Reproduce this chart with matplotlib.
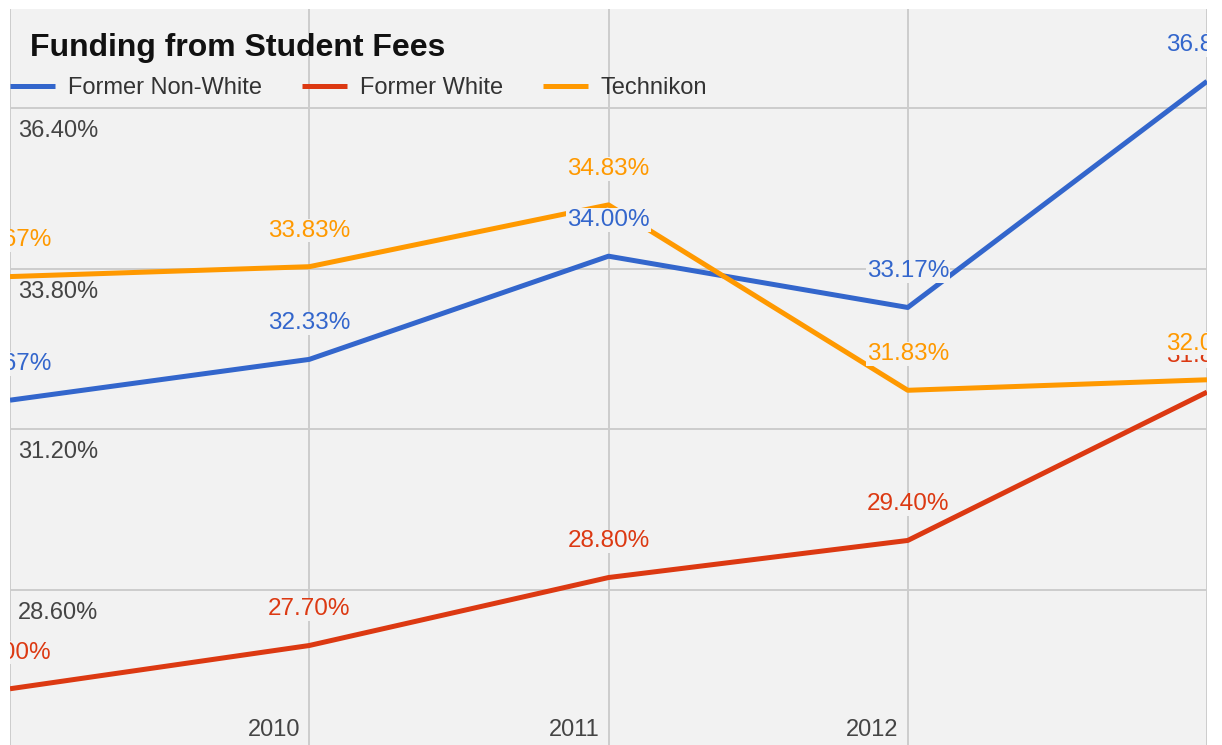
import matplotlib
matplotlib.use("Agg")
import matplotlib.pyplot as plt
import matplotlib.transforms as mtransforms

# ---- data ----
years = [2009, 2010, 2011, 2012, 2013]
series_names = ["Former Non-White", "Former White", "Technikon"]
former_non_white = [31.67, 32.33, 34.00, 33.17, 36.83]
former_white = [27.00, 27.70, 28.80, 29.40, 31.80]
technikon = [33.67, 33.83, 34.83, 31.83, 32.00]
y_ticks = [28.60, 31.20, 33.80, 36.40]
x_tick_years = [2010, 2011, 2012]
title = "Funding from Student Fees"

colors = ["#3366cc", "#dc3912", "#ff9900"]
bg = "#f2f2f2"
grid_c = "#cccccc"
axis_text = "#444444"

plt.rcParams['font.family'] = ['Liberation Sans', 'DejaVu Sans']

W, H = 1222, 745
fig = plt.figure(figsize=(W / 100, H / 100), dpi=100)
ax_left, ax_right, ax_top, ax_bottom = 10, 1207, 9, 745
ax = fig.add_axes([ax_left / W, (H - ax_bottom) / H,
                   (ax_right - ax_left) / W, (ax_bottom - ax_top) / H])
ax.set_facecolor(bg)
ax.set_xlim(2009, 2013)
ax.set_ylim(26.09, 38.0)
for s in ax.spines.values():
    s.set_visible(False)

ax.set_xticks(years)
ax.set_yticks(y_ticks)
ax.grid(True, color=grid_c, linewidth=1.4, zorder=0)
ax.tick_params(length=0, labelbottom=False, labelleft=False)
ax.set_axisbelow(True)

all_series = [former_non_white, former_white, technikon]
lines = []
for vals, c, name in zip(all_series, colors, series_names):
    ln, = ax.plot(years, vals, color=c, linewidth=3.6, label=name,
                  solid_joinstyle='round', solid_capstyle='butt', zorder=3)
    lines.append(ln)

# data labels
for vals, c in zip(all_series, colors):
    for x, v in zip(years, vals):
        t = ax.annotate(f"{v:.2f}%", xy=(x, v), xytext=(0, 26),
                        textcoords="offset points", ha="center", va="center",
                        fontsize=17.5, color=c, zorder=5,
                        bbox=dict(facecolor=bg, edgecolor="none", pad=0.5),
                        annotation_clip=False)
        t.set_clip_on(True)
        t.set_clip_path(ax.patch)

# y axis labels (inside, below gridlines)
ytrans = mtransforms.blended_transform_factory(ax.transAxes, ax.transData)
for yv in y_ticks:
    ax.text(0.0067, yv, f"{yv:.2f}%", transform=ytrans +
            mtransforms.ScaledTranslation(0, -12 / 100, fig.dpi_scale_trans),
            ha="left", va="top", fontsize=17, color=axis_text, zorder=2)

# x axis labels (inside, bottom, right of label at gridline)
xtrans = mtransforms.blended_transform_factory(ax.transData, ax.transAxes)
for xv in x_tick_years:
    ax.text(xv, 0.0204, str(xv), transform=xtrans +
            mtransforms.ScaledTranslation(-9 / 100, 0, fig.dpi_scale_trans),
            ha="right", va="center", fontsize=17, color=axis_text, zorder=2)

# title
ax.text(20 / 1197, (745 - 48) / 736, title, transform=ax.transAxes,
        ha="left", va="center", fontsize=23, fontweight="bold",
        color="#111111", zorder=6)

# legend
leg = ax.legend(handles=lines, loc="center left",
                bbox_to_anchor=(0.0, (745 - 88) / 736), ncol=3,
                frameon=False, fontsize=17, handlelength=1.9,
                handletextpad=0.55, columnspacing=1.7, borderpad=0,
                borderaxespad=0)
for txt in leg.get_texts():
    txt.set_color("#333333")
leg.set_zorder(6)

fig.savefig("out.png", dpi=100, facecolor="white")
